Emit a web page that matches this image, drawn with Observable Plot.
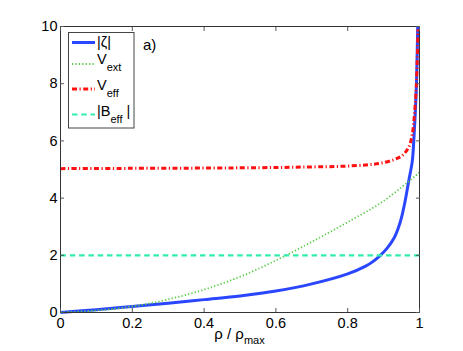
<!DOCTYPE html>
<html>
<head>
<meta charset="utf-8">
<script src="https://cdn.jsdelivr.net/npm/d3@7"></script>
<script src="https://cdn.jsdelivr.net/npm/@observablehq/plot@0.6"></script>
<style>
  html, body { margin: 0; padding: 0; background: #fff; }
  #chart { width: 463px; height: 351px; }
</style>
</head>
<body>
<div id="chart"></div>
<script>
// ---- data ----
const zetaX = [0, 0.1, 0.2, 0.3, 0.4, 0.5, 0.6, 0.7, 0.8, 0.85, 0.87, 0.891, 0.91, 0.93, 0.94, 0.95, 0.96, 0.97, 0.98, 0.984, 0.988, 0.9916, 0.995];
const zetaY = [0, 0.1, 0.21, 0.32, 0.45, 0.58, 0.75, 1.0, 1.35, 1.62, 1.78, 2.0, 2.25, 2.62, 2.92, 3.33, 3.9, 4.6, 5.3, 6.0, 6.9, 8.0, 10];

const vextX = [0, 0.1, 0.2, 0.3, 0.4, 0.5, 0.6, 0.7, 0.8, 0.9, 1.0];
const vextY = [0, 0.07, 0.21, 0.46, 0.8, 1.25, 1.82, 2.47, 3.16, 3.9, 4.9];

const veffX = [0, 0.2, 0.4, 0.6, 0.7, 0.78, 0.85, 0.891, 0.928, 0.952, 0.97, 0.98, 0.986, 0.991, 0.996];
const veffY = [5.03, 5.04, 5.05, 5.07, 5.09, 5.11, 5.16, 5.22, 5.34, 5.49, 5.78, 6.25, 6.95, 7.88, 9.9];

const beffX = [0, 1];
const beffY = [2, 2];

const xTicks = [0, 0.2, 0.4, 0.6, 0.8, 1];
const xTickLabels = ["0", "0.2", "0.4", "0.6", "0.8", "1"];
const yTicks = [0, 2, 4, 6, 8, 10];
const yTickLabels = ["0", "2", "4", "6", "8", "10"];

// ---- styles ----
const S = {
  zeta: {stroke: "#2a46ff", strokeWidth: 3, strokeDasharray: null},
  vext: {stroke: "#5ccc4a", strokeWidth: 1.8, strokeDasharray: "1.3,2.1"},
  veff: {stroke: "#ff1010", strokeWidth: 3, strokeDasharray: "5,2.5,1.2,2.5"},
  beff: {stroke: "#30eeaa", strokeWidth: 2.2, strokeDasharray: "5.5,3.8"}
};

const toRows = (xs, ys) => xs.map((x, i) => ({x, y: ys[i]}));
const zeta = toRows(zetaX, zetaY);
const vext = toRows(vextX, vextY);
const veff = toRows(veffX, veffY);
const beff = toRows(beffX, beffY);

const font = "'Liberation Sans', Arial, Helvetica, sans-serif";
const fmtX = d => xTickLabels[xTicks.indexOf(d)];
const fmtY = d => yTickLabels[yTicks.indexOf(d)];

const lineOpts = s => Object.assign({x: "x", y: "y", curve: "catmull-rom", strokeLinecap: "butt"}, s);

const chart = Plot.plot({
  width: 463,
  height: 351,
  marginLeft: 60,
  marginRight: 44,
  marginTop: 26,
  marginBottom: 39,
  style: {fontFamily: font, fontSize: "14.5px", color: "#000", background: "#fff"},
  x: {domain: [0, 1]},
  y: {domain: [0, 10]},
  marks: [
    Plot.line(zeta, lineOpts(S.zeta)),
    Plot.line(vext, lineOpts(S.vext)),
    Plot.line(veff, lineOpts(S.veff)),
    Plot.line(beff, lineOpts(S.beff)),
    Plot.frame({stroke: "#333", strokeWidth: 1}),
    Plot.axisX({ticks: xTicks, tickSize: -4, tickPadding: 9, tickFormat: fmtX, label: null, stroke: "#555", fill: "#000"}),
    Plot.axisY({ticks: yTicks, tickSize: -4, tickPadding: 7, tickFormat: fmtY, label: null, stroke: "#555", fill: "#000"}),
    Plot.axisX({anchor: "top", ticks: xTicks, tickSize: -4, tickFormat: () => "", label: null, stroke: "#555"}),
    Plot.axisY({anchor: "right", ticks: yTicks, tickSize: -4, tickFormat: () => "", label: null, stroke: "#555"})
  ]
});

document.getElementById("chart").appendChild(chart);

// ---- annotations: x label, legend, panel tag ----
const svg = d3.select(chart);
const xs = chart.scale("x");

// x axis label with subscript
const xl = svg.append("text")
  .attr("x", (xs.range[0] + xs.range[1]) / 2)
  .attr("y", 339)
  .attr("text-anchor", "middle")
  .attr("font-family", font)
  .attr("font-size", 15)
  .attr("fill", "#000");
xl.append("tspan").text("ρ / ρ");
xl.append("tspan").attr("dy", 5).attr("font-size", 11).text("max");

// panel tag
svg.append("text")
  .attr("x", 143).attr("y", 50)
  .attr("text-anchor", "start")
  .attr("font-family", font).attr("font-size", 15).attr("fill", "#000")
  .text("a)");

// legend
const lg = svg.append("g").attr("text-anchor", "start");
lg.append("rect")
  .attr("x", 68.5).attr("y", 32.5).attr("width", 65.5).attr("height", 95.5)
  .attr("fill", "#fff").attr("stroke", "#444").attr("stroke-width", 1);

const entries = [
  {s: S.zeta, ly: 42.5, parts: [["|ζ|", 0]], ty: 47},
  {s: S.vext, ly: 64, parts: [["V", 0], ["ext", 7]], ty: 64},
  {s: S.veff, ly: 89, parts: [["V", 0], ["eff", 7]], ty: 89.5},
  {s: S.beff, ly: 114.5, parts: [["|B", 0], ["eff", 7], [" |", -7]], ty: 116}
];
for (const e of entries) {
  lg.append("line")
    .attr("x1", 72).attr("x2", 95).attr("y1", e.ly).attr("y2", e.ly)
    .attr("stroke", e.s.stroke).attr("stroke-width", e.s.strokeWidth)
    .attr("stroke-dasharray", e.s.strokeDasharray);
  const t = lg.append("text")
    .attr("x", 97).attr("y", e.ty)
    .attr("text-anchor", "start")
    .attr("font-family", font).attr("font-size", 14.5).attr("fill", "#000");
  for (const [txt, dy] of e.parts) {
    const sp = t.append("tspan").attr("dy", dy).text(txt);
    if (dy > 0) sp.attr("font-size", 11);
  }
}
</script>
</body>
</html>
